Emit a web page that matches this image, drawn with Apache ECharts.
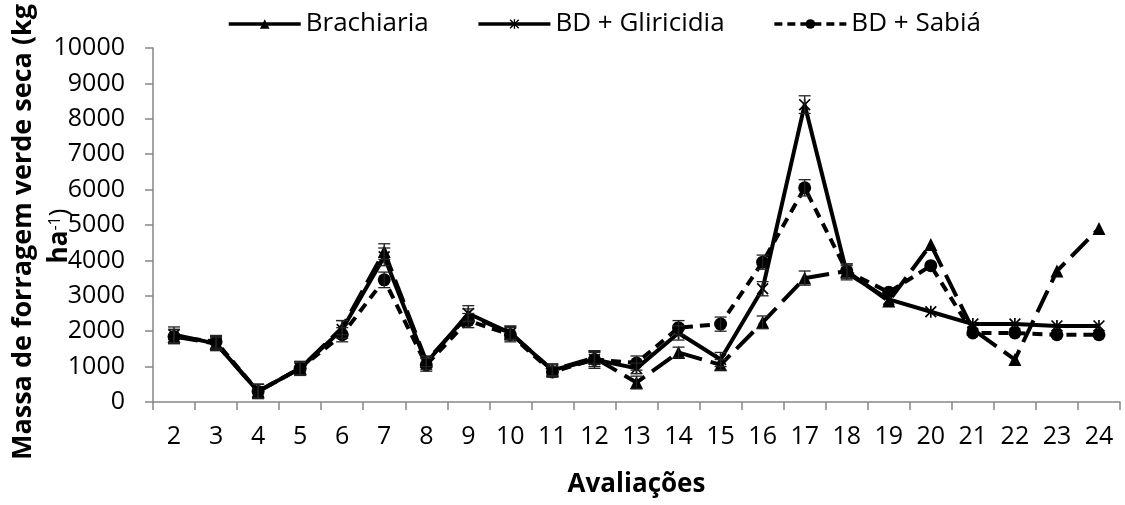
<!DOCTYPE html>
<html>
<head>
<meta charset="utf-8">
<script src="https://cdn.jsdelivr.net/npm/echarts@6/dist/echarts.min.js"></script>
<style>
html,body{margin:0;padding:0;background:#fff;}
#chart{width:1125px;height:505px;}
</style>
</head>
<body>
<div id="chart"></div>
<script>
// Categories (Avaliações)
const categories = ['2','3','4','5','6','7','8','9','10','11','12','13','14','15','16','17','18','19','20','21','22','23','24'];
const seriesNames = ['Brachiaria', 'BD + Gliricidia', 'BD + Sabiá'];

// Massa de forragem verde seca (kg ha-1)
const brachiaria = [1850,1650,300,950,2100,4250,1150,2450,1950,900,1250,550,1400,1050,2250,3500,3700,2850,4450,2050,1200,3700,4900];
const gliricidia = [1900,1650,300,950,2050,4100,1100,2500,1950,900,1200,950,1950,1200,3200,8400,3650,2900,2550,2200,2200,2150,2150];
const sabia      = [1850,1700,300,950,1900,3450,1050,2300,1900,850,1200,1100,2100,2200,3950,6050,3700,3100,3850,1950,1950,1900,1900];

// Error bar half-widths (null = no bar)
const errBrachiaria = [200,180,200,180,200,220,150,180,180,150,180,180,150,150,180,200,200,null,null,null,null,null,null];
const errGliricidia = [220,200,200,200,250,250,180,220,200,180,250,150,200,200,200,250,200,null,null,null,null,null,null];
const errSabia      = [200,180,200,180,200,220,180,200,200,150,200,200,200,200,200,230,200,null,null,null,null,null,null];

const yTicks = {min: 0, max: 10000, interval: 1000};

function errData(vals, errs){
  const out = [];
  vals.forEach((v,i)=>{ if(errs[i] != null) out.push([i, v - errs[i], v + errs[i]]); });
  return out;
}
function renderErr(params, api){
  const lo = api.coord([api.value(0), api.value(1)]);
  const hi = api.coord([api.value(0), api.value(2)]);
  const hw = 6;
  const st = {stroke:'#222', lineWidth:1.3};
  return {type:'group', children:[
    {type:'line', shape:{x1:lo[0],y1:lo[1],x2:hi[0],y2:hi[1]}, style:st},
    {type:'line', shape:{x1:lo[0]-hw,y1:lo[1],x2:lo[0]+hw,y2:lo[1]}, style:st},
    {type:'line', shape:{x1:hi[0]-hw,y1:hi[1],x2:hi[0]+hw,y2:hi[1]}, style:st}
  ]};
}

const starPath = 'path://M4.3,0L5.7,0L5.7,10L4.3,10Z M0,1L1,0L10,9L9,10Z M9,0L10,1L1,10L0,9Z';
const FONT = '"Open Sans", "Liberation Sans", sans-serif';
const AX = '#868686';

const chart = echarts.init(document.getElementById('chart'), null, {renderer:'canvas'});
chart.setOption({
  animation: false,
  backgroundColor: '#fff',
  textStyle: {fontFamily: FONT, color: '#000'},
  grid: {left: 153, right: 5, top: 48, bottom: 103, containLabel: false},
  legend: {
    left: 222, top: 6,
    itemWidth: 72, itemHeight: 12, itemGap: 48,
    lineStyle: {width: 3.5},
    textStyle: {fontSize: 26, color: '#000', fontFamily: FONT, padding: [0,0,0,0]},
    data: [
      {name: seriesNames[0], lineStyle: {type: 'solid', width: 3.5}},
      {name: seriesNames[1], lineStyle: {type: 'solid', width: 3.5}},
      {name: seriesNames[2], lineStyle: {type: [8, 5], width: 3.5}}
    ]
  },
  xAxis: {
    type: 'category',
    data: categories,
    boundaryGap: true,
    axisLine: {lineStyle: {color: AX, width: 1.5}},
    axisTick: {show: true, alignWithLabel: false, length: 8, lineStyle: {color: AX, width: 1.5}},
    axisLabel: {fontSize: 25, color: '#000', margin: 22, interval: 0, fontFamily: FONT},
    name: 'Avaliações',
    nameLocation: 'middle',
    nameGap: 70,
    nameTextStyle: {fontSize: 26, fontWeight: 'bold', color: '#000', fontFamily: FONT}
  },
  yAxis: {
    type: 'value',
    min: yTicks.min, max: yTicks.max, interval: yTicks.interval,
    axisLine: {show: true, lineStyle: {color: AX, width: 1.5}},
    axisTick: {show: true, length: 8, lineStyle: {color: AX, width: 1.5}},
    axisLabel: {fontSize: 25, color: '#000', margin: 28, fontFamily: FONT, formatter: v => String(v)},
    splitLine: {show: false}
  },
  graphic: [
    {type:'text', x: 23, y: 232, rotation: Math.PI/2, z: 100,
     style: {text: 'Massa de forragem verde seca (kg', fontSize: 27, fontWeight: 'bold', fontFamily: FONT, fill: '#000', align: 'center', verticalAlign: 'middle'}},
    {type:'text', x: 60, y: 236, rotation: Math.PI/2, z: 100,
     style: {text: '{a|ha}{s|-1}{b|)}', fill: '#000', align: 'center', verticalAlign: 'middle',
       rich: {
         a: {fontSize: 26, fontWeight: 'bold', fontFamily: FONT, fill: '#000'},
         s: {fontSize: 16, fontFamily: FONT, fill: '#000', verticalAlign: 'top'},
         b: {fontSize: 26, fontFamily: FONT, fill: '#000'}
       }}}
  ],
  series: [
    {name: seriesNames[0], type: 'line', data: brachiaria, z: 3,
     symbol: 'triangle', symbolSize: 13,
     itemStyle: {color: '#000'},
     lineStyle: {color: '#000', width: 4, type: [24, 9]}},
    {name: seriesNames[1], type: 'line', data: gliricidia, z: 4,
     symbol: starPath, symbolSize: 12,
     itemStyle: {color: '#000'},
     lineStyle: {color: '#000', width: 4, type: 'solid'}},
    {name: seriesNames[2], type: 'line', data: sabia, z: 3,
     symbol: 'circle', symbolSize: 13,
     itemStyle: {color: '#000'},
     lineStyle: {color: '#000', width: 4, type: [10, 7]}},
    {type: 'custom', data: errData(brachiaria, errBrachiaria), renderItem: renderErr, encode: {x: 0, y: [1,2]}, z: 5, silent: true},
    {type: 'custom', data: errData(gliricidia, errGliricidia), renderItem: renderErr, encode: {x: 0, y: [1,2]}, z: 5, silent: true},
    {type: 'custom', data: errData(sabia, errSabia), renderItem: renderErr, encode: {x: 0, y: [1,2]}, z: 5, silent: true}
  ]
});
</script>
</body>
</html>
